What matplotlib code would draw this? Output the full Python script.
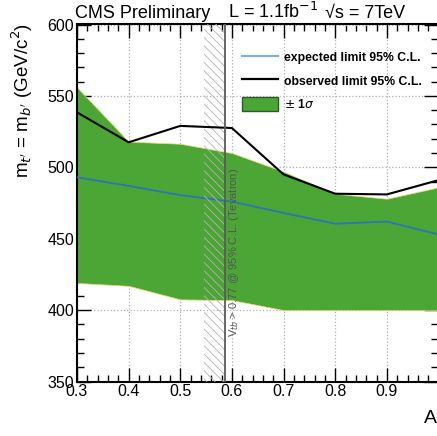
import matplotlib
matplotlib.use('Agg')
import matplotlib.pyplot as plt
import numpy as np
from matplotlib.lines import Line2D
from matplotlib.patches import Patch
from matplotlib.ticker import MultipleLocator

plt.rcParams['font.family'] = ['Liberation Sans', 'DejaVu Sans']
plt.rcParams['hatch.linewidth'] = 0.6

# values
coupling = [0.3, 0.4, 0.5, 0.6, 0.7, 0.8, 0.9, 1.0]
observed = [538.5, 517.5, 529, 527.5, 495, 481.5, 481, 491]
expected = [493, 487, 480.5, 476, 468, 460.5, 462, 453]
band_up = [556, 518, 516.5, 510, 497, 481.5, 478, 486]
band_lo = [419, 417, 407.5, 407, 400, 400, 400, 400]
tevatron_lo, tevatron_hi = 0.545, 0.586

green = '#4ba636'
blue = '#2f74b5'

fig = plt.figure(figsize=(4.37, 4.36), dpi=100)
ax = fig.add_axes([77 / 437, 1 - 381.5 / 436, 361.5 / 437, 357 / 436])

ax.fill_between(coupling, band_lo, band_up, facecolor=green, edgecolor='#e6e070',
                linewidth=0.5, zorder=2)
ax.plot(coupling, expected, color=blue, lw=1.3, zorder=3)
ax.plot(coupling, observed, color='black', lw=1.5, zorder=4)

# Tevatron bound
ax.axvspan(tevatron_lo, tevatron_hi, facecolor='none', edgecolor='#b4b4b4',
           hatch='\\\\\\\\', linewidth=0, zorder=3.5)
ax.axvline(tevatron_hi + 0.001, color='#5a5a5a', lw=1.3, zorder=5)
ax.text(tevatron_hi + 0.005, 381, r'V$_{tb}$ > 0.77 @ 95% C.L. (Tevatron)',
        rotation=90, ha='left', va='bottom', fontsize=8, color='#555555', zorder=6)

ax.set_xlim(0.3, 1.0)
ax.set_ylim(350, 600)
ax.xaxis.set_major_locator(MultipleLocator(0.1))
ax.xaxis.set_minor_locator(MultipleLocator(0.02))
ax.yaxis.set_major_locator(MultipleLocator(50))
ax.yaxis.set_minor_locator(MultipleLocator(10))
ax.set_xticks([0.3, 0.4, 0.5, 0.6, 0.7, 0.8, 0.9])
ax.set_xticklabels(['0.3', '0.4', '0.5', '0.6', '0.7', '0.8', '0.9'])
ax.tick_params(which='both', direction='in', top=True, right=True, labelsize=11.5,
               width=1.0, colors='black')
ax.tick_params(which='major', length=10, pad=2)
ax.tick_params(which='minor', length=5)
ax.grid(True, which='major', color='#b0b0b0', linestyle=':', linewidth=0.9, zorder=1)
ax.set_axisbelow(True)
for s in ax.spines.values():
    s.set_linewidth(1.5)

handles = [Line2D([], [], color='#7ab0e0', lw=1.6),
           Line2D([], [], color='black', lw=1.6),
           Patch(facecolor=green, edgecolor='#2d5a2d', linewidth=1.0)]
labels = ['expected limit 95% C.L.', 'observed limit 95% C.L.', r'$\pm$ 1$\sigma$']
ax.legend(handles, labels, loc='upper left', bbox_to_anchor=(241.7 / 437, 1 - 50 / 436),
          bbox_transform=fig.transFigure, frameon=False, borderpad=0, borderaxespad=0,
          handlelength=3.0, handletextpad=0.5, handleheight=1.4, labelspacing=0.76,
          prop={'size': 8.8, 'weight': 'bold'})

fig.text(75 / 437, 1 - 18.5 / 436, 'CMS Preliminary', fontsize=13, va='baseline')
fig.text(228 / 437, 1 - 18.5 / 436, r'L = 1.1fb$^{-1}$', fontsize=13, va='baseline')
fig.text(325 / 437, 1 - 18.5 / 436, '√s = 7TeV', fontsize=13, va='baseline')
fig.text(22 / 437, 1 - 23 / 436, r"m$_{t'}$ = m$_{b'}$ (GeV/c$^{2}$)", rotation=90,
         ha='center', va='top', fontsize=13.5)
fig.text(424 / 437, 1 - 418 / 436, 'A', fontsize=14, ha='left', va='center')

fig.savefig('out.png', dpi=100)
